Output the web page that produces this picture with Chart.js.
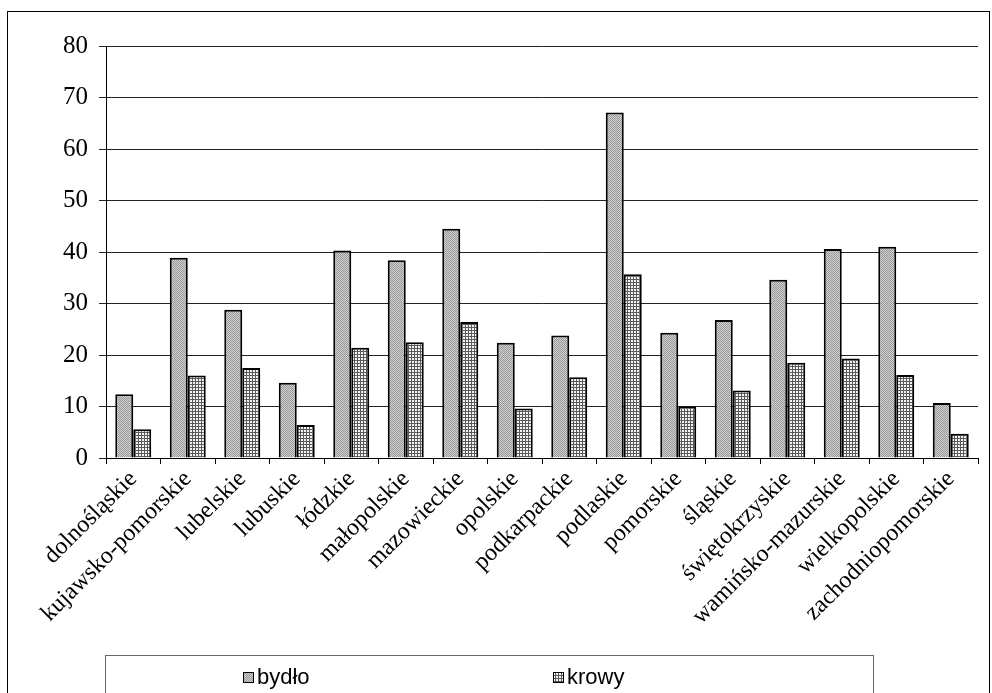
<!DOCTYPE html>
<html>
<head>
<meta charset="utf-8">
<script src="https://cdn.jsdelivr.net/npm/chart.js@4/dist/chart.umd.min.js"></script>
<style>
  html, body { margin: 0; padding: 0; background: #fff; }
  #wrap { width: 992px; height: 693px; }
</style>
</head>
<body>
<div id="wrap"><canvas id="myChart" width="992" height="693"></canvas></div>
<script>
// -----------------------------
// Data
// -----------------------------
const regions = ["dolnośląskie", "kujawsko-pomorskie", "lubelskie", "lubuskie", "łódzkie",
  "małopolskie", "mazowieckie", "opolskie", "podkarpackie", "podlaskie", "pomorskie",
  "śląskie", "świętokrzyskie", "wamińsko-mazurskie", "wielkopolskie", "zachodniopomorskie"];
const bydlo = [12.4, 38.9, 28.8, 14.6, 40.3, 38.4, 44.5, 22.4, 23.8, 67.1, 24.3, 26.8, 34.6, 40.6, 41.0, 10.7];
const krowy = [5.6, 16.0, 17.5, 6.4, 21.4, 22.5, 26.4, 9.6, 15.7, 35.7, 10.0, 13.1, 18.5, 19.3, 16.1, 4.7];
const seriesNames = ["bydło", "krowy"];
const yTicks = [0, 10, 20, 30, 40, 50, 60, 70, 80];

// -----------------------------
// Fill patterns
// -----------------------------
function dotPattern() {
  const c = document.createElement("canvas");
  c.width = 2; c.height = 2;
  const g = c.getContext("2d");
  g.fillStyle = "#d0d0d0"; g.fillRect(0, 0, 2, 2);
  g.fillStyle = "#989898"; g.fillRect(0, 0, 1, 1); g.fillRect(1, 1, 1, 1);
  return g.createPattern(c, "repeat");
}
function gridPattern() {
  const c = document.createElement("canvas");
  c.width = 3; c.height = 3;
  const g = c.getContext("2d");
  g.fillStyle = "#f4f4f4"; g.fillRect(0, 0, 3, 3);
  g.fillStyle = "#5a5a5a"; g.fillRect(0, 0, 3, 1); g.fillRect(0, 0, 1, 3);
  return g.createPattern(c, "repeat");
}
const fills = [dotPattern(), gridPattern()];

// -----------------------------
// Frame + legend box
// -----------------------------
const framePlugin = {
  id: "frame",
  afterDraw(chart) {
    const ctx = chart.ctx;
    ctx.save();
    ctx.strokeStyle = "#000";
    ctx.lineWidth = 1;
    ctx.strokeRect(7.5, 11.5, 982, 700);

    // legend box
    ctx.strokeStyle = "#666";
    ctx.strokeRect(105.5, 655.5, 768, 60);
    const items = [243, 553];
    ctx.font = "22px 'Liberation Sans', Arial, sans-serif";
    ctx.textBaseline = "middle";
    chart.data.datasets.forEach((ds, i) => {
      const x = items[i], y = 678;
      ctx.fillStyle = ds.backgroundColor;
      ctx.fillRect(x, y - 6, 11, 11);
      ctx.strokeStyle = "#000";
      ctx.strokeRect(x + 0.5, y - 5.5, 10, 10);
      ctx.fillStyle = "#000";
      ctx.fillText(ds.label, x + 14, y);
    });
    ctx.restore();
  }
};

const ctx = document.getElementById("myChart").getContext("2d");
new Chart(ctx, {
  type: "bar",
  data: {
    labels: regions,
    datasets: [
      { label: seriesNames[0], data: bydlo, backgroundColor: fills[0], borderColor: "#000", borderWidth: 2 },
      { label: seriesNames[1], data: krowy, backgroundColor: fills[1], borderColor: "#000", borderWidth: 2 }
    ]
  },
  options: {
    responsive: false,
    animation: false,
    devicePixelRatio: 1,
    layout: { padding: { left: 0, top: 46, right: 14, bottom: 0 } },
    datasets: { bar: { categoryPercentage: 0.66, barPercentage: 1.0 } },
    plugins: {
      legend: { display: false },
      tooltip: { enabled: false }
    },
    scales: {
      x: {
        afterFit(s) { s.height = 235; },
        grid: { display: true, drawOnChartArea: false, drawTicks: true, tickLength: 6, color: "#000", offset: true },
        border: { display: true, color: "#000", width: 1 },
        ticks: {
          autoSkip: false, minRotation: 45, maxRotation: 45, color: "#000", padding: 1,
          font: { family: "'Liberation Serif', 'Times New Roman', serif", size: 24 }
        }
      },
      y: {
        min: 0, max: 80,
        afterFit(s) { s.width = 106; },
        afterBuildTicks(s) { s.ticks = yTicks.map(v => ({ value: v })); },
        grid: { color: "#222", lineWidth: 1, drawTicks: true, tickLength: 7 },
        border: { display: true, color: "#000", width: 1 },
        ticks: {
          color: "#000", padding: 11,
          font: { family: "'Liberation Serif', 'Times New Roman', serif", size: 25 }
        }
      }
    }
  },
  plugins: [framePlugin]
});
</script>
</body>
</html>
